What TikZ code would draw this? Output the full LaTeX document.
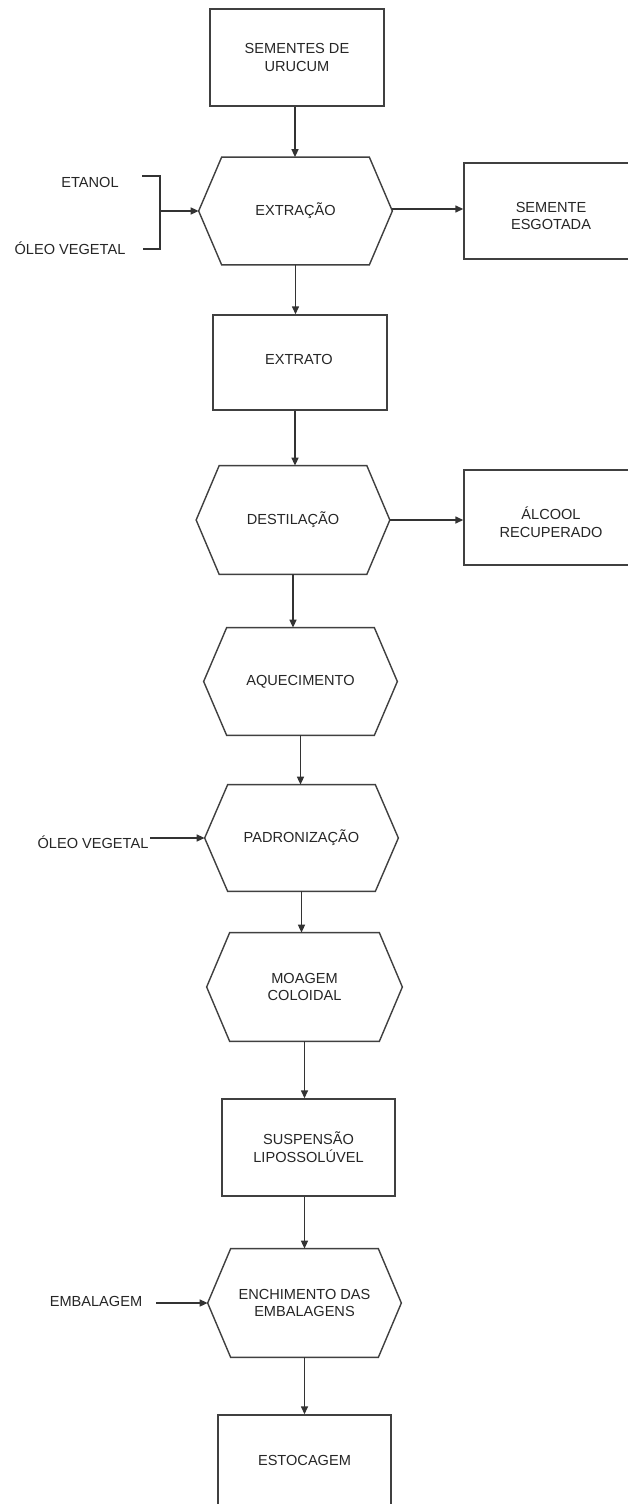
\documentclass[tikz,border=0pt]{standalone}
\usepackage{fontspec}
\setmainfont{Liberation Sans}
\usetikzlibrary{arrows.meta}
\def\u{0.02cm}
\tikzset{
  every node/.style={font=\fontsize{8.3}{10.2}\selectfont, text=black!85, align=center, inner sep=1pt},
  boxnode/.style={draw=black!75, line width=0.8pt, minimum width=174*\u, minimum height=97*\u},
  hexnode/.style={minimum width=193*\u, minimum height=107*\u},
  hexline/.style={draw=black!75, line width=0.8pt, line join=miter},
  lbl/.style={},
  conn/.style={draw=black!80, line width=0.8pt},
  arr/.style={conn, -{Triangle[length=0.16cm,width=0.14cm]}}
}
\begin{document}
\begin{tikzpicture}[x=0.02cm, y=-0.02cm]
\path[use as bounding box, fill=white] (0,0) rectangle (628,1504);
\clip (0,0) rectangle (628,1504);
% main column
\node[boxnode] (sem) at (297,57.5) {SEMENTES DE\\URUCUM};
\node[hexnode] (ext) at (295.5,211) {EXTRAÇÃO};
\node[boxnode, minimum height=95*\u] (etr) at (300,362.5) {};
\node (etrl) at (299,359) {EXTRATO};
\node[hexnode, minimum height=108*\u] (des) at (293,520) {DESTILAÇÃO};
\node[hexnode] (aqu) at (300.5,681.5) {AQUECIMENTO};
\node[hexnode, minimum height=106*\u] (pad) at (301.5,838) {PADRONIZAÇÃO};
\node[hexnode, minimum height=108*\u, minimum width=195*\u] (moa) at (304.5,987) {MOAGEM\\COLOIDAL};
\node[boxnode, minimum width=173*\u] (sus) at (308.5,1147.5) {SUSPENSÃO\\LIPOSSOLÚVEL};
\node[hexnode, minimum height=108*\u] (enc) at (304.5,1303) {ENCHIMENTO DAS\\EMBALAGENS};
\node[boxnode, minimum width=173*\u] (est) at (304.5,1463.5) {};
\node (estl) at (304.5,1460) {ESTOCAGEM};
% side boxes
\node[boxnode, minimum width=173*\u, minimum height=96*\u] (esg) at (550.5,211) {};
\node (esgl) at (551,216) {SEMENTE\\ESGOTADA};
\node[boxnode, minimum width=173*\u, minimum height=95*\u] (alc) at (550.5,517.5) {};
\node (alcl) at (551,522) {ÁLCOOL\\RECUPERADO};
% hexagon outlines
\foreach \n in {ext,des,aqu,pad,moa,enc}{
  \draw[hexline] ([xshift=23*\u]\n.north west) -- ([xshift=-23*\u]\n.north east) -- (\n.east)
    -- ([xshift=-23*\u]\n.south east) -- ([xshift=23*\u]\n.south west) -- (\n.west) -- cycle;
}
% inputs
\node[lbl] (eta) at (90,182) {ETANOL};
\node[lbl] (ole1) at (70,248) {ÓLEO VEGETAL};
\node[lbl] (ole2) at (93,842) {ÓLEO VEGETAL};
\node[lbl] (emb) at (96,1301) {EMBALAGEM};
\coordinate (bt) at (142,176);
\coordinate (bb) at (143,249);
\coordinate (bv) at (160,211);
\draw[conn] (bt) -- (bt -| bv) -- (bb -| bv) -- (bb);
\draw[arr] (bv) -- (ext.west);
\draw[arr] (ole2.east |- pad.west) -- (pad.west);
\draw[arr, shorten <=12*\u] (emb.east |- enc.west) -- (enc.west);
% main flow
\draw[arr] ([xshift=-2*\u]sem.south) -- ([xshift=-2*\u]sem.south |- ext.north);
\draw[arr] (ext.south) -- (ext.south |- etr.north);
\draw[arr] ([xshift=-5*\u]etr.south) -- ([xshift=-5*\u]etr.south |- des.north);
\draw[arr] (des.south) -- (des.south |- aqu.north);
\draw[arr] (aqu.south) -- (aqu.south |- pad.north);
\draw[arr] (pad.south) -- (pad.south |- moa.north);
\draw[arr] (moa.south) -- (moa.south |- sus.north);
\draw[arr] ([xshift=-4*\u]sus.south) -- ([xshift=-4*\u]sus.south |- enc.north);
\draw[arr] (enc.south) -- (enc.south |- est.north);
\draw[arr] ([yshift=2*\u]ext.east) -- ([yshift=2*\u]ext.east -| esg.west);
\draw[arr] (des.east) -- (des.east -| alc.west);
\end{tikzpicture}
\end{document}
